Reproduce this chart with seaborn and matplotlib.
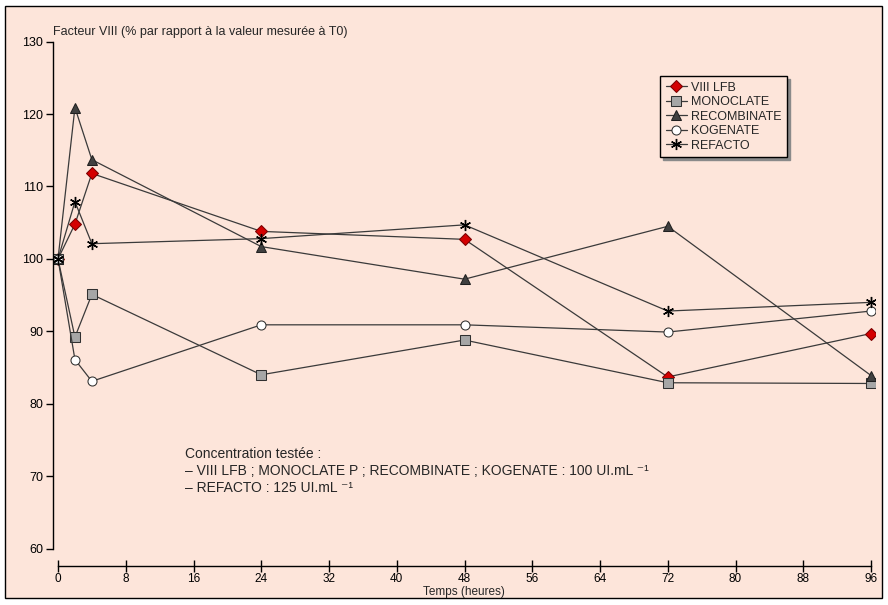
import matplotlib
matplotlib.use("Agg")
import matplotlib.pyplot as plt
from matplotlib.patches import Rectangle
import seaborn as sns

# ---- data ----
times = [0, 2, 4, 24, 48, 72, 96]
viii_lfb = [100, 104.8, 111.8, 103.8, 102.7, 83.7, 89.7]
monoclate = [100, 89.2, 95.1, 84.0, 88.8, 82.9, 82.8]
recombinate = [100, 120.9, 113.7, 101.7, 97.2, 104.5, 83.9]
kogenate = [100, 86.1, 83.1, 90.9, 90.9, 89.9, 92.8]
refacto = [100, 107.9, 102.1, 102.8, 104.7, 92.8, 94.0]
series_names = ["VIII LFB", "MONOCLATE", "RECOMBINATE", "KOGENATE", "REFACTO"]
x_ticks = list(range(0, 97, 8))
y_ticks = list(range(60, 131, 10))

BG = "#FDE5DA"
LINE = "#3a3a3a"
W, H = 888, 605

sns.set_theme(style="white")
plt.rcParams["font.family"] = ["Liberation Sans", "DejaVu Sans"]

fig = plt.figure(figsize=(W / 100, H / 100), dpi=100, facecolor="white")
frame = Rectangle((5 / W, 1 - 598 / H), 877 / W, 592 / H,
                  transform=fig.transFigure, facecolor=BG,
                  edgecolor="black", linewidth=1.0, zorder=-10)
fig.patches.append(frame)

ax = fig.add_axes([53 / W, 1 - 566 / H, 822 / W, 528 / H])
ax.set_facecolor("none")
ax.set_zorder(1)

styles = [
    dict(marker="D", markerfacecolor="#d40000", markeredgecolor="#7a0000", markersize=6),
    dict(marker="s", markerfacecolor="#a6a6a6", markeredgecolor="#303030", markersize=6.5),
    dict(marker="^", markerfacecolor="#404040", markeredgecolor="#202020", markersize=7),
    dict(marker="o", markerfacecolor="white", markeredgecolor="#303030", markersize=6.5),
    dict(marker=(6, 2, 0), markerfacecolor="black", markeredgecolor="black",
         markersize=8, markeredgewidth=1.0),
]
for name, vals, st in zip(series_names, [viii_lfb, monoclate, recombinate, kogenate, refacto], styles):
    sns.lineplot(x=times, y=vals, ax=ax, color=LINE, linewidth=0.9, label=name,
                 sort=False, **st)

ax.set_xlim(-0.59, 96.47)
ax.set_ylim(57.6, 130.5)
ax.set_xticks(x_ticks)
ax.set_yticks(y_ticks)
ax.set_xticklabels([str(t) for t in x_ticks])
ax.set_yticklabels([str(v) for v in y_ticks])
for s in ["top", "right"]:
    ax.spines[s].set_visible(False)
for s in ["left", "bottom"]:
    ax.spines[s].set_visible(True)
    ax.spines[s].set_color("black")
    ax.spines[s].set_linewidth(1.0)
ax.spines["left"].set_bounds(60, 130)
ax.spines["bottom"].set_bounds(0, 96)
ax.tick_params(axis="y", direction="out", length=5, width=1, colors="black",
               labelsize=9, pad=2, left=True)
ax.tick_params(axis="x", direction="inout", length=8, width=1, colors="black",
               labelsize=8.5, pad=1, bottom=True)
ax.set_xlabel("")
ax.set_ylabel("")
ax.grid(False)

fig.text(53 / W, 1 - 32 / H, "Facteur VIII (% par rapport à la valeur mesurée à T0)",
         ha="left", va="center", fontsize=9)
fig.text(464 / W, 1 - 592 / H, "Temps (heures)", ha="center", va="center", fontsize=8.5)

fam = ["Liberation Sans", "DejaVu Sans"]
fig.text(185 / W, 1 - 454 / H, "Concentration testée :", ha="left", va="center",
         fontsize=10, family=fam)
fig.text(185 / W, 1 - 471 / H,
         "– VIII LFB ; MONOCLATE P ; RECOMBINATE ; KOGENATE : 100 UI.mL ⁻¹",
         ha="left", va="center", fontsize=10, family=fam)
fig.text(185 / W, 1 - 488 / H, "– REFACTO : 125 UI.mL ⁻¹", ha="left", va="center",
         fontsize=10, family=fam)

leg = ax.legend(loc="upper left", bbox_to_anchor=(660 / W, 1 - 76 / H),
                bbox_transform=fig.transFigure, frameon=True, fancybox=False,
                shadow={"color": "#8a8a8a", "alpha": 1.0}, fontsize=9,
                handlelength=1.7, handletextpad=0.3, labelspacing=0.2,
                borderpad=0.45, borderaxespad=0)
leg.get_frame().set_facecolor(BG)
leg.get_frame().set_edgecolor("black")
leg.get_frame().set_linewidth(1.0)
leg.get_frame().set_alpha(1.0)

fig.savefig("out.png", dpi=100, facecolor="white")
